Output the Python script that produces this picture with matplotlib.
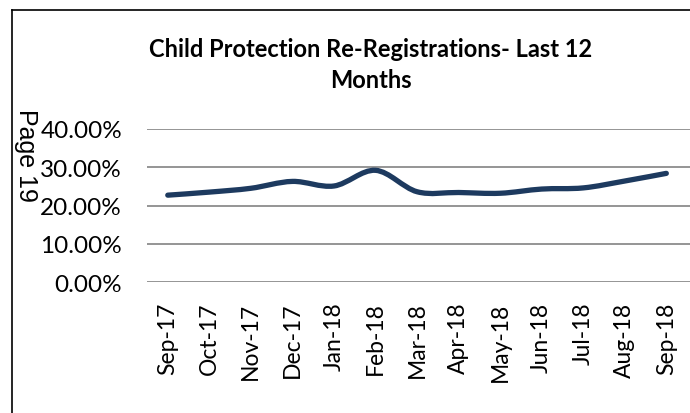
import numpy as np
import matplotlib.pyplot as plt
from matplotlib.path import Path
from matplotlib.patches import PathPatch
from matplotlib.lines import Line2D

months = ["Sep-17", "Oct-17", "Nov-17", "Dec-17", "Jan-18", "Feb-18", "Mar-18",
          "Apr-18", "May-18", "Jun-18", "Jul-18", "Aug-18", "Sep-18"]
rates = [0.227, 0.235, 0.245, 0.263, 0.251, 0.292, 0.236,
         0.234, 0.232, 0.243, 0.246, 0.264, 0.284]
yticks = [0.0, 0.1, 0.2, 0.3, 0.4]


def smooth_path(x, y):
  # Excel style smoothed line: cubic bezier segments through the points
  x = np.asarray(x, float)
  y = np.asarray(y, float)
  n = len(x)
  verts = [(x[0], y[0])]
  codes = [Path.MOVETO]
  for i in range(n - 1):
    x0, y0 = (x[i - 1], y[i - 1]) if i > 0 else (x[i], y[i])
    x3, y3 = (x[i + 2], y[i + 2]) if i + 2 < n else (x[i + 1], y[i + 1])
    c1 = (x[i] + (x[i + 1] - x0) / 6.0, y[i] + (y[i + 1] - y0) / 6.0)
    c2 = (x[i + 1] - (x3 - x[i]) / 6.0, y[i + 1] - (y3 - y[i]) / 6.0)
    verts += [c1, c2, (x[i + 1], y[i + 1])]
    codes += [Path.CURVE4] * 3
  return Path(verts, codes)


fig = plt.figure(figsize=(6.9, 4.14), dpi=100)
ax = fig.add_axes([147 / 690, 1 - 283 / 414, (690 - 147) / 690, (283 - 130) / 414])

xs = np.arange(len(months))
patch = PathPatch(smooth_path(xs, rates), facecolor="none", edgecolor="#1d3a5f",
                  lw=3.8, capstyle="round", joinstyle="round", clip_on=False, zorder=3)
ax.add_patch(patch)

ax.set_xlim(-0.5, 12.57)
ax.set_ylim(0, 0.4)
ax.set_yticks(yticks)
ax.set_yticklabels(["{:.2f}%".format(v * 100) for v in yticks])
for lab in ax.get_yticklabels():
  lab.set_fontsize(17.5)
  lab.set_fontfamily("Lato")
ax.set_xticks(xs)
ax.set_xticklabels(months, rotation=90, fontsize=16.5, family="Lato")
ax.tick_params(axis="both", length=0)
ax.tick_params(axis="y", pad=18)
ax.tick_params(axis="x", pad=14)
ax.grid(axis="y", color="#8c8c8c", lw=1.3)
ax.set_axisbelow(True)
for s in ax.spines.values():
  s.set_visible(False)

fig.text(371 / 690, 1 - 65 / 414, "Child Protection Re-Registrations- Last 12\nMonths",
         ha="center", va="center", fontsize=17, fontweight="bold", family="Lato",
         linespacing=1.45)
fig.text(26 / 690, 1 - 155 / 414, "Page 19", rotation=-90, ha="center", va="center",
         fontsize=18, family="Liberation Sans")

# outer frame (left and top edges)
fig.add_artist(Line2D([12 / 690, 12 / 690], [0, 1 - 11 / 414], color="black", lw=1.2,
                      transform=fig.transFigure))
fig.add_artist(Line2D([12 / 690, 1], [1 - 11 / 414, 1 - 11 / 414], color="black", lw=1.2,
                      transform=fig.transFigure))

fig.savefig("out.png", dpi=100)
